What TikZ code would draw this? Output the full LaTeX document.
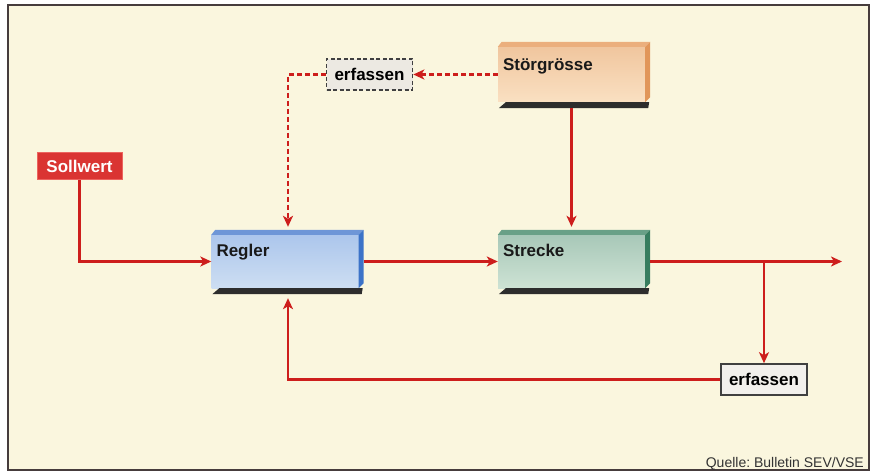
\documentclass[tikz,border=0pt]{standalone}
\usepackage{fontspec}
\setmainfont{Liberation Sans}
\usetikzlibrary{arrows.meta,calc}
\definecolor{bgc}{RGB}{250,246,222}
\definecolor{framec}{RGB}{70,60,60}
\definecolor{redc}{RGB}{205,30,28}
\definecolor{sollc}{RGB}{218,52,50}
\definecolor{sollb}{RGB}{236,100,95}
\definecolor{shadowc}{RGB}{45,45,45}
\definecolor{bluetop}{RGB}{110,150,215}
\definecolor{blueside}{RGB}{60,115,200}
\definecolor{greentop}{RGB}{105,160,135}
\definecolor{greenside}{RGB}{55,125,95}
\definecolor{peachtop}{RGB}{235,175,125}
\definecolor{peachside}{RGB}{225,150,90}
\newcommand{\cuboid}[3]{%
  \fill[#2] (#1.north west) -- ++(4,-5) -- ($(#1.north east)+(5,-5)$) -- (#1.north east) -- cycle;
  \fill[#3] (#1.north east) -- ++(5,-5) -- ($(#1.south east)+(5,-5)$) -- (#1.south east) -- cycle;
  \fill[shadowc] ($(#1.south west)+(8,0)$) -- ($(#1.south east)+(4,0)$) -- ($(#1.south east)+(3,6)$) -- ($(#1.south west)+(1,6)$) -- cycle;
}
\frenchspacing
\begin{document}
\begin{tikzpicture}[x=1pt,y=-1pt,
  font=\fontsize{17pt}{19pt}\selectfont\bfseries,
  front/.style={inner sep=0pt, minimum width=147pt, minimum height=53pt},
  boxtext/.style={anchor=base west, inner sep=0pt, text=black!90},
  flow/.style={draw=redc, line width=2.1pt},
  arr/.style={-{Stealth[length=11pt,width=10pt,inset=3pt]}},
  dashedflow/.style={flow, dash pattern=on 5pt off 3pt},
  erfbox/.style={inner sep=0pt, minimum width=86pt, minimum height=31pt, line width=1.6pt}
]
\useasboundingbox (0,0) rectangle (873,473);
\fill[white] (0,0) rectangle (873,473);
\draw[framec, fill=bgc, line width=1.5pt] (8,5) rectangle (869,470);

% boxes
\node[front, top color={rgb,255:red,172;green,198;blue,236}, bottom color={rgb,255:red,205;green,222;blue,242}] (regler) at (285,261.5) {};
\cuboid{regler}{bluetop}{blueside}
\node[boxtext] (reglerT) at ($(regler.north west)+(5,22)$) {Regler};

\node[front, top color={rgb,255:red,168;green,200;blue,184}, bottom color={rgb,255:red,205;green,226;blue,212}] (strecke) at (571.5,261.5) {};
\cuboid{strecke}{greentop}{greenside}
\node[boxtext] (streckeT) at ($(strecke.north west)+(5,22)$) {Strecke};

\node[front, minimum height=55pt, top color={rgb,255:red,240;green,198;blue,158}, bottom color={rgb,255:red,250;green,224;blue,194}] (stoer) at (571.5,74.5) {};
\cuboid{stoer}{peachtop}{peachside}
\node[boxtext] (stoerT) at ($(stoer.north west)+(5,24)$) {Störgrösse};

\node[fill=sollc, draw=sollb, line width=1pt, text=white, inner sep=0pt, minimum width=85pt, minimum height=27pt] (soll) at (79.5,166) {Sollwert};

\node[erfbox, draw=black!75, dash pattern=on 4pt off 2.5pt, fill={rgb,255:red,236;green,233;blue,226}] (erf1) at (369.5,74.5) {erfassen};
\node[erfbox, draw=black!75, fill={rgb,255:red,242;green,240;blue,236}] (erf2) at (764,379.5) {erfassen};

\coordinate (out) at (842,261.5);
\coordinate (br) at (764,261.5);

% connectors
\draw[flow, arr] (soll.south) |- (regler.west);
\draw[flow, arr] ([xshift=5pt]regler.east) -- (strecke.west);
\draw[flow, arr] ([xshift=5pt]strecke.east) -- (out);
\draw[flow, arr] (br) -- (erf2.north);
\draw[flow, arr] (erf2.west) -| ([xshift=3pt,yshift=-10pt]regler.south);
\draw[flow, arr] ([yshift=-6pt]stoer.south) -- ([yshift=8pt]strecke.north);
\draw[dashedflow, arr] (stoer.west) -- (erf1.east);
\draw[dashedflow, arr] (erf1.west) -| ([xshift=3pt,yshift=8pt]regler.north);

\node[anchor=base east, inner sep=0pt, font=\fontsize{14pt}{16pt}\selectfont, text=black!80] (src) at (864,467) {Quelle: Bulletin SEV/VSE};
\end{tikzpicture}
\end{document}
